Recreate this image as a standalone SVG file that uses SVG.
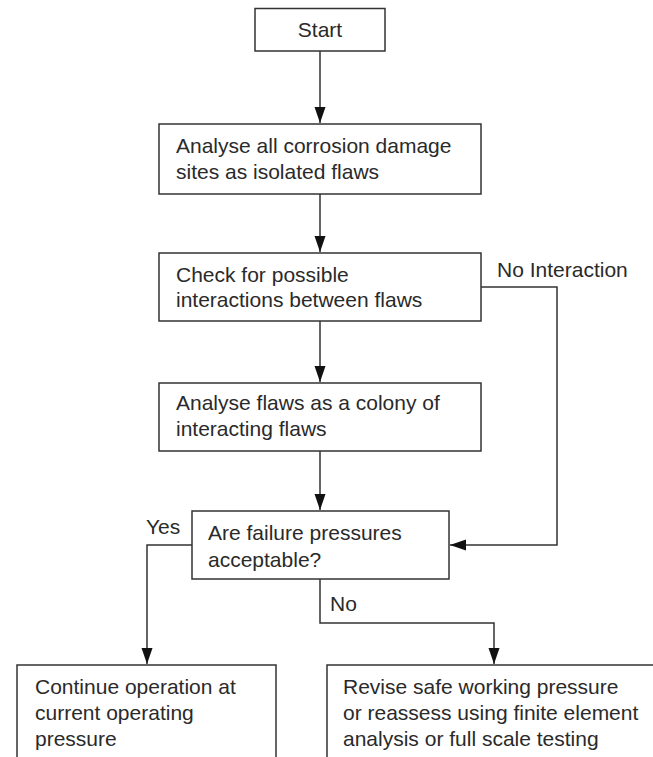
<svg xmlns="http://www.w3.org/2000/svg" width="653" height="757" viewBox="0 0 653 757">
<style>
.box{fill:#fff;stroke:#333;stroke-width:1.5}
.t{font-family:"Liberation Sans",Arial,sans-serif;font-size:21px;fill:#2a2a2a}
.c{fill:none;stroke:#333;stroke-width:1.5}
</style>
<defs>
<marker id="ah" markerUnits="userSpaceOnUse" markerWidth="18" markerHeight="12" refX="16" refY="6" orient="auto">
<path d="M0,0.5 L16,6 L0,11.5 Z" fill="#111"/>
</marker>
</defs>
<rect width="653" height="757" fill="#fff"/>
<g id="connectors">
<path class="c" d="M320,51 V123" marker-end="url(#ah)"/>
<path class="c" d="M320,194 V252" marker-end="url(#ah)"/>
<path class="c" d="M320,321 V382" marker-end="url(#ah)"/>
<path class="c" d="M320,451 V510" marker-end="url(#ah)"/>
<path class="c" d="M481,287 H557 V545 H450" marker-end="url(#ah)"/>
<path class="c" d="M192,545 H147 V664" marker-end="url(#ah)"/>
<path class="c" d="M320,579 V623 H494 V664" marker-end="url(#ah)"/>
<text class="t" x="497" y="277">No Interaction</text>
<text class="t" x="146" y="534">Yes</text>
<text class="t" x="330" y="611">No</text>
</g>
<g id="start">
<rect class="box" x="255" y="8.5" width="130" height="42.5"/>
<text class="t" x="320" y="37" text-anchor="middle">Start</text>
</g>
<g id="analyse-isolated">
<rect class="box" x="159" y="124" width="322" height="70"/>
<text class="t" x="176" y="153">Analyse all corrosion damage</text>
<text class="t" x="176" y="179">sites as isolated flaws</text>
</g>
<g id="check-interactions">
<rect class="box" x="159" y="253" width="322" height="68"/>
<text class="t" x="176" y="282">Check for possible</text>
<text class="t" x="176" y="307">interactions between flaws</text>
</g>
<g id="analyse-colony">
<rect class="box" x="159" y="383" width="322" height="68"/>
<text class="t" x="176" y="410">Analyse flaws as a colony of</text>
<text class="t" x="176" y="436">interacting flaws</text>
</g>
<g id="decision">
<rect class="box" x="192" y="511" width="257" height="68"/>
<text class="t" x="208" y="540">Are failure pressures</text>
<text class="t" x="208" y="567">acceptable?</text>
</g>
<g id="continue">
<rect class="box" x="17" y="665" width="259" height="110"/>
<text class="t" x="35" y="694">Continue operation at</text>
<text class="t" x="35" y="720">current operating</text>
<text class="t" x="35" y="746">pressure</text>
</g>
<g id="revise">
<rect class="box" x="327" y="665" width="340" height="110"/>
<text class="t" x="343" y="694">Revise safe working pressure</text>
<text class="t" x="343" y="720">or reassess using finite element</text>
<text class="t" x="343" y="746">analysis or full scale testing</text>
</g>
</svg>
